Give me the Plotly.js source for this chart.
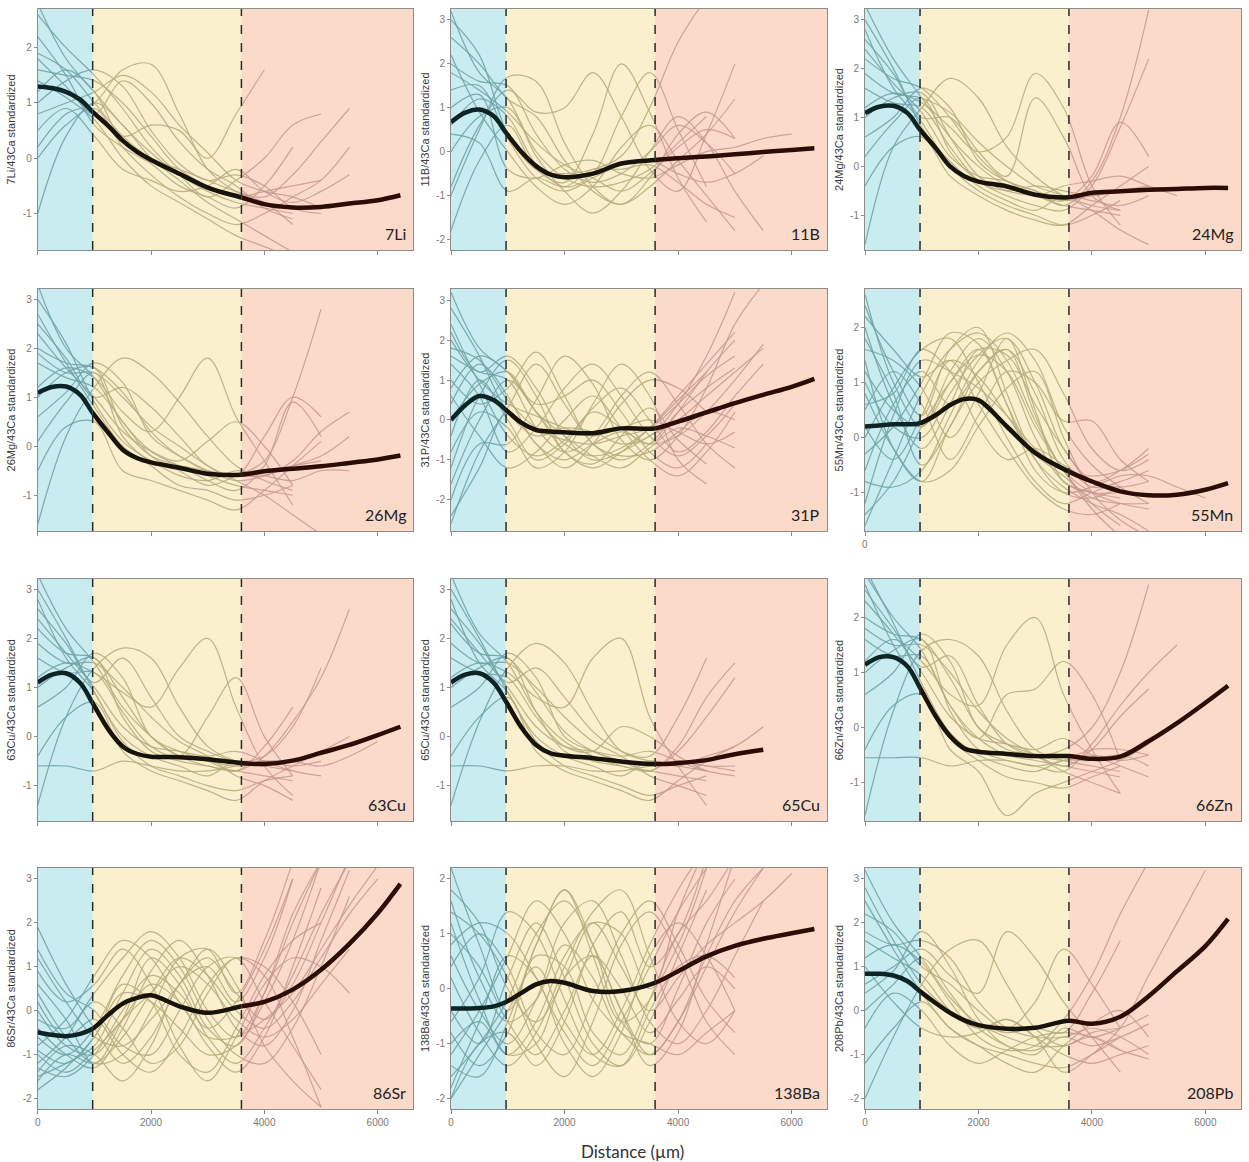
<!DOCTYPE html>
<html>
<head>
<meta charset="utf-8">
<script src="https://cdn.plot.ly/plotly-3.0.1.min.js"></script>
<style>html,body{margin:0;padding:0;background:#fff;}#chart{width:1249px;height:1162px;}</style>
</head>
<body>
<div id="chart"></div>
<script>
// ---------------- DATA ----------------
const ELEMENTS = ['7Li','11B','24Mg','26Mg','31P','55Mn','63Cu','65Cu','66Zn','86Sr','138Ba','208Pb'];
const X_TICKS = [0, 2000, 4000, 6000];
const ZONE_BOUNDS = [0, 970, 3595, 6628];   // distance (µm)
// x positions of the thin individual profiles
const XT = [0,500,1000,1500,2000,2500,3000,3500,4000,4500,5000,5500,6000];
// x positions of the mean (thick) curve
const XM = [0,250,500,750,970,1250,1500,1750,2000,2500,3000,3595,4000,4500,5000,5500,6000,6400];

const mean_7Li  = [1.30,1.27,1.20,1.06,0.84,0.58,0.32,0.12,-0.03,-0.28,-0.53,-0.71,-0.83,-0.89,-0.88,-0.82,-0.76,-0.67];
const mean_11B  = [0.67,0.89,0.96,0.81,0.43,-0.02,-0.33,-0.52,-0.58,-0.50,-0.27,-0.19,-0.15,-0.11,-0.06,-0.01,0.04,0.08];
const mean_24Mg = [1.09,1.22,1.24,1.09,0.75,0.37,0.00,-0.20,-0.31,-0.41,-0.58,-0.63,-0.54,-0.51,-0.48,-0.46,-0.44,-0.44];
const mean_26Mg = [1.09,1.21,1.22,1.05,0.68,0.27,-0.07,-0.24,-0.33,-0.44,-0.56,-0.58,-0.51,-0.46,-0.41,-0.34,-0.27,-0.19];
const mean_31P  = [0.00,0.37,0.60,0.50,0.25,-0.08,-0.25,-0.29,-0.31,-0.33,-0.21,-0.21,-0.04,0.19,0.42,0.63,0.83,1.03];
const mean_55Mn = [0.20,0.22,0.24,0.24,0.26,0.41,0.59,0.70,0.68,0.20,-0.28,-0.62,-0.80,-0.98,-1.05,-1.04,-0.95,-0.83];
const mean_63Cu = [1.10,1.26,1.29,1.09,0.68,0.14,-0.20,-0.35,-0.41,-0.42,-0.46,-0.54,-0.56,-0.49,-0.33,-0.17,0.03,0.20];
const mean_65Cu = [1.10,1.26,1.29,1.10,0.71,0.17,-0.17,-0.34,-0.39,-0.44,-0.51,-0.56,-0.54,-0.48,-0.36,-0.27,null,null];
const mean_66Zn = [1.14,1.28,1.28,1.11,0.72,0.20,-0.16,-0.38,-0.44,-0.48,-0.52,-0.52,-0.57,-0.53,-0.25,0.08,0.45,0.76];
const mean_86Sr = [-0.49,-0.55,-0.58,-0.53,-0.41,-0.09,0.16,0.29,0.35,0.10,-0.05,0.10,0.20,0.48,0.93,1.52,2.22,2.89];
const mean_138Ba= [-0.36,-0.36,-0.35,-0.32,-0.24,-0.07,0.08,0.14,0.11,-0.04,-0.04,0.11,0.32,0.59,0.78,0.91,1.01,1.09];
const mean_208Pb= [0.84,0.84,0.80,0.67,0.44,0.17,-0.05,-0.22,-0.33,-0.41,-0.39,-0.23,-0.30,-0.14,0.33,0.90,1.47,2.09];

const curves_7Li = [
 [2.8,1.8,1.2,0.6,0.1,-0.3,-0.6,-0.8,-0.9,-1.0],
 [1.6,1.5,1.4,1.0,0.4,-0.2,-0.5,-0.7,-0.6,-0.5,-0.4],
 [0.2,0.8,1.0,1.6,1.7,0.8,-0.2,-0.6,-0.8,-1.2],
 [-1.0,0.4,1.0,0.6,0.0,-0.4,-0.8,-1.1,-1.4,-1.7],
 [2.2,1.5,0.6,0.2,-0.1,-0.5,-0.7,-0.9,-0.5,0.2],
 [1.0,1.4,1.6,1.3,0.5,-0.1,-0.4,-0.3,-0.5,-0.9,-1.0],
 [0.5,0.9,0.4,-0.2,-0.4,-0.6,-0.5,-0.2,-0.6,-0.8,-0.6,-0.3],
 [1.8,1.3,0.8,1.4,1.0,0.3,-0.2,-0.5,-0.9,-1.1],
 [1.2,1.6,1.2,0.4,0.6,0.5,0.0,0.8,1.6],
 [0.0,0.6,0.9,0.2,-0.3,-0.7,-1.0,-1.2,-1.0,-0.7,-0.4,0.2],
 [2.6,2.0,1.5,0.9,0.2,-0.3,-0.7,-0.4,0.0,0.6,0.8],
 [1.4,1.1,0.7,0.0,-0.5,-0.8,-1.1,-1.4,-1.6,-1.8],
 [0.8,1.0,1.2,1.5,1.2,0.6,0.1,-0.4,-0.6,-0.7,-0.9],
 [1.9,1.6,1.0,0.4,0.0,-0.2,-0.4,-0.6,-0.7,-0.3,0.3,0.9]
];
const curves_11B = [
 [3.2,1.8,1.2,0.0,-0.6,-0.8,-0.7,-0.4,0.2,0.8],
 [2.0,1.6,1.5,0.4,-0.4,-0.7,-0.5,0.0,0.6,0.2,-0.5],
 [-1.0,0.5,1.7,1.6,0.2,-0.8,-1.2,-0.6,0.4,0.9,0.3],
 [0.6,1.2,0.8,-0.3,-0.8,-0.5,0.8,1.8,0.5,-0.8],
 [1.4,1.5,0.3,-0.6,-0.9,-0.6,-0.3,-0.2,-0.5,-0.7,-0.5,-0.1],
 [-1.8,-0.2,0.6,-0.4,-0.7,0.4,2.0,0.9,-0.6,-1.6],
 [2.6,2.0,1.2,0.8,-0.2,-0.9,-1.2,-0.8,-0.2,0.4,1.2],
 [0.0,0.8,1.0,-0.1,-0.9,-1.4,-0.9,0.0,0.8,0.2,-0.9,-1.8],
 [1.0,1.3,-0.4,-0.6,-0.3,-0.2,-0.5,-0.6,-0.3,0.0,0.1,0.3,0.4],
 [2.2,0.9,0.0,-0.8,-1.2,-0.8,0.1,0.6,-0.2,-1.0,-1.8],
 [-0.8,0.6,1.4,0.9,1.0,1.8,0.8,-0.4,-0.9,0.4,2.0],
 [1.8,1.4,0.9,0.2,-0.3,-0.6,-0.9,-0.5,0.1,0.5,0.3],
 [0.4,0.2,-0.9,-0.6,-0.8,-0.4,-0.4,-0.3,-0.7,-1.2,-1.5],
 [3.0,2.2,0.4,-0.4,-0.5,-0.4,-0.1,1.0,2.5,3.5]
];
const curves_24Mg = [
 [3.3,2.2,1.4,0.6,0.0,-0.4,-0.6,-0.8,-0.9,-1.0],
 [2.2,1.8,1.6,1.0,0.2,-0.3,-0.5,-0.7,-0.6,-0.5,-0.4],
 [-1.6,0.4,1.2,1.8,1.4,0.4,-0.2,-0.6,-0.8,-0.9],
 [1.0,1.4,1.5,0.6,-0.2,-0.5,-0.6,-0.7,-0.2,0.9,0.2],
 [2.8,1.6,0.9,0.0,-0.5,-0.8,-1.0,-1.2,-1.0,-0.7],
 [1.2,1.5,1.3,0.8,0.3,0.6,1.9,1.2,-0.4,-1.2],
 [0.2,0.9,1.4,0.3,-0.3,-0.5,-0.4,-0.5,-0.6,-0.5,-0.5,-0.45],
 [2.6,1.9,1.0,1.0,0.3,-0.2,1.4,0.6,-0.6,-0.9],
 [-0.4,0.4,0.6,-0.2,-0.6,-0.9,-1.1,-1.2,-0.8,-0.4,0.0],
 [1.6,1.3,1.2,0.4,-0.3,-0.6,-0.8,-0.9,-0.4,0.8,2.2],
 [3.0,2.0,0.8,0.1,-0.4,-0.7,-0.9,-0.6,-0.7,-0.8,-0.6],
 [1.9,1.5,1.4,1.1,0.5,0.0,-0.4,-0.6,-0.9,-1.3,-1.6],
 [0.6,1.0,1.6,1.2,0.1,-0.3,-0.5,-0.8,-0.3,1.0,3.2],
 [2.4,1.7,1.1,0.2,-0.2,-0.3,-0.6,-0.4,-0.3,-0.2,-0.4,-0.6]
];
const curves_26Mg = [
 [3.3,2.0,1.4,0.5,-0.1,-0.4,-0.6,-0.8,-0.9,-1.0],
 [2.0,1.7,1.6,1.1,0.3,-0.2,-0.5,-0.6,-0.5,-0.4,-0.3],
 [-1.6,0.2,1.2,1.8,1.5,0.9,0.2,-0.4,-0.7,-0.9],
 [1.0,1.5,1.6,0.4,-0.2,-0.4,-0.7,-0.9,-0.4,0.9,0.2],
 [2.7,1.7,0.8,0.0,-0.4,-0.8,-0.9,-1.1,-1.0,-0.8],
 [1.2,1.6,1.4,0.7,0.3,1.0,1.8,0.6,-0.3,-1.2],
 [0.1,0.9,1.5,0.2,-0.3,-0.4,-0.5,-0.6,-0.6,-0.4,-0.2,0.2],
 [2.5,1.8,1.0,1.2,0.8,0.2,-0.4,-0.6,0.2,1.0,0.6],
 [-0.5,0.4,0.5,-0.5,-0.7,-0.9,-1.1,-1.3,-0.9,-0.4,0.1],
 [1.7,1.4,1.2,0.5,-0.2,-0.5,-0.8,-0.6,-0.3,1.0,2.8],
 [3.0,2.1,0.9,0.1,-0.3,-0.6,-0.7,-0.5,-0.6,-0.7,-0.5,-0.5],
 [1.9,1.5,1.5,1.0,0.4,0.0,-0.4,-0.7,-1.0,-1.4,-1.8],
 [0.6,1.1,1.7,1.3,0.2,-0.2,-0.5,-0.7,-0.6,-0.3,0.3,0.7],
 [2.3,1.6,1.0,0.3,-0.1,-0.3,0.1,0.5,0.0,-0.8]
];
const curves_31P = [
 [3.2,1.8,1.2,0.2,-0.6,-0.9,-0.7,-0.2,0.5,1.2],
 [-2.6,-0.8,0.3,1.4,0.4,-0.6,-1.0,-0.6,0.2,0.8,1.3],
 [1.6,1.2,1.0,-0.2,-0.8,-0.4,0.6,1.2,0.4,-0.6,-1.2],
 [-1.2,0.6,1.5,0.6,-0.8,-1.1,-0.4,0.3,-0.5,-1.1],
 [2.4,0.9,-0.4,-0.9,-0.5,0.3,0.8,0.0,-0.8,-0.3,0.6,1.4],
 [0.4,1.4,0.6,-0.6,-1.0,-0.6,-0.3,-0.6,-0.4,0.2,1.0,1.9],
 [-2.0,-0.6,-0.6,0.5,1.6,0.9,-0.5,-1.0,-0.4,0.8,2.4,3.4],
 [1.0,0.4,0.8,1.7,0.6,-0.6,-0.9,-0.8,-0.3,0.2,0.0],
 [2.8,1.6,0.2,-0.4,-0.2,-0.3,-0.6,-0.4,0.4,1.6,3.2],
 [0.0,0.9,1.2,0.2,-0.4,-0.9,-1.2,-0.7,-0.2,-0.4,-0.7],
 [-0.8,0.2,-0.2,-1.2,-0.8,0.4,1.4,0.6,-1.0,-1.6],
 [1.8,1.5,0.5,-0.2,-0.5,-0.6,-0.4,-0.2,0.4,1.1,1.6],
 [0.6,-0.4,-1.2,-0.8,0.0,0.6,-0.2,-1.0,-1.4,-0.8,0.2],
 [2.0,1.0,0.4,0.1,-0.2,-0.4,-0.2,0.0,-0.3,-0.6,-0.3],
 [-1.6,0.0,1.0,0.2,-0.8,-1.2,-0.8,-0.2,0.6,1.4,2.2],
 [0.8,1.6,1.2,0.4,0.6,1.0,0.2,-0.8,-1.2,-0.6],
 [-2.4,-1.2,0.2,-0.6,-1.2,-0.6,0.4,1.0,0.8,0.2],
 [1.4,0.6,-0.8,-0.2,0.8,1.4,0.6,-0.4,-0.9,-0.4,0.4],
 [2.2,1.2,1.6,0.8,-0.4,-1.0,-0.8,-0.4,0.0,0.6,1.2,1.8],
 [-0.4,1.0,0.0,-1.0,-0.6,0.2,-0.2,-0.6,0.2,1.2,2.0]
];
const curves_55Mn = [
 [2.6,1.0,0.2,1.2,1.8,1.2,0.0,-0.8,-1.0,-1.1],
 [-1.6,-0.4,0.8,1.6,1.9,1.4,0.3,-0.6,-1.2,-1.6],
 [1.8,0.8,-0.5,0.2,1.2,1.6,0.8,-0.4,-0.9,-0.8,-0.6],
 [0.0,0.9,1.6,1.8,1.0,0.0,-0.8,-1.2,-1.0,-0.8],
 [-0.8,-0.9,-0.6,0.4,1.4,1.9,1.4,0.2,-0.5,-0.9,-1.2],
 [1.2,0.5,0.2,1.0,1.6,0.6,-0.4,-0.9,-1.2,-1.4,-1.7],
 [0.5,1.2,0.6,-0.4,0.4,1.2,1.0,0.3,0.3,-0.4,-0.8],
 [2.2,1.6,1.1,1.4,0.6,-0.2,-0.9,-1.3,-1.4,-1.2],
 [-0.3,0.2,1.0,1.9,1.7,0.6,-0.6,-1.0,-0.9,-0.7,-0.7,-0.9,-1.1],
 [0.8,-0.2,-0.8,-0.6,0.2,0.9,1.2,0.0,-1.0,-1.5,-1.8],
 [-1.2,0.4,1.4,1.2,0.9,0.4,-0.2,-0.6,-0.7,-0.6,-0.3],
 [1.6,1.4,0.9,0.0,0.8,1.8,0.5,-0.8,-1.0,-1.0],
 [0.2,-0.4,0.4,1.4,1.1,0.4,-0.3,-0.7,-1.1,-1.2,-1.2],
 [2.0,0.6,-0.2,0.6,1.6,1.5,0.6,-0.2,-0.8,-0.6,-0.2],
 [1.0,0.2,0.0,0.8,1.5,1.8,1.0,-0.2,-0.8,-1.0],
 [-0.6,0.6,1.2,0.6,1.2,1.6,0.4,-0.6,-1.0,-1.2,-1.3],
 [2.4,1.2,0.4,1.6,2.0,0.8,-0.4,-1.0,-1.1,-0.9],
 [-1.4,-0.8,0.2,1.0,1.5,1.2,0.2,-0.6,-1.3,-1.8],
 [0.6,0.8,1.6,1.2,0.2,-0.4,-0.2,-0.5,-0.8,-0.9,-0.8],
 [1.4,-0.2,-0.8,0.2,1.0,1.4,1.6,0.8,-0.2,-0.6,-0.4]
];
const curves_63Cu = [
 [3.3,2.2,1.5,0.6,0.0,-0.4,-0.6,-0.7,-0.8,-0.9],
 [2.2,1.7,1.6,0.8,0.0,-0.4,-0.5,-0.6,-0.5,-0.6,-0.5],
 [-1.4,0.4,1.4,1.8,1.6,0.6,-0.2,-0.5,-0.6,-0.7],
 [1.0,1.4,1.6,0.4,-0.3,-0.5,-0.6,-0.7,-0.4,0.3,1.2,2.6],
 [2.8,1.6,0.9,-0.1,-0.6,-0.8,-1.0,-1.1,-0.9,-0.8],
 [1.2,1.5,1.3,0.9,0.6,1.4,2.0,0.6,-0.6,-1.2],
 [-0.6,-0.6,-0.7,-0.5,-0.6,-0.7,-0.7,-0.6,-0.5,-0.5,-0.6,-0.4,-0.1],
 [2.6,1.9,1.1,1.6,0.8,0.0,-0.3,-0.5,-0.4,0.2,1.4],
 [-0.4,0.4,0.7,-0.3,-0.7,-0.9,-1.1,-1.3,-0.9,-0.6,-0.3],
 [1.6,1.3,1.3,0.5,-0.2,-0.4,0.4,1.2,0.0,-0.8],
 [3.0,2.0,0.9,0.0,-0.4,-0.6,-0.8,-0.5,-0.6,-0.5,-0.3,0.0],
 [1.9,1.5,1.5,1.0,0.4,-0.1,-0.4,-0.8,-1.0,-1.3],
 [0.6,1.0,1.7,1.2,0.0,-0.3,-0.5,-0.7,-0.2,0.6],
 [2.4,1.7,1.0,0.2,-0.2,-0.3,-0.4,-0.3,-0.5,-0.7,-0.8]
];
const curves_65Cu = [
 [3.3,2.1,1.5,0.5,-0.1,-0.4,-0.6,-0.7,-0.8,-0.9],
 [2.3,1.7,1.6,0.9,0.1,-0.3,-0.5,-0.6,-0.5,-0.6,-0.6],
 [-1.4,0.3,1.4,1.9,1.5,0.5,-0.3,-0.5,-0.6,-0.7],
 [1.0,1.4,1.6,0.5,-0.3,-0.5,-0.6,-0.7,-0.3,0.4,1.2],
 [2.8,1.5,0.9,-0.1,-0.6,-0.8,-1.0,-1.2,-1.0,-0.8],
 [1.2,1.5,1.3,0.8,0.6,1.6,2.0,0.4,-0.6,-1.4],
 [-0.6,-0.6,-0.7,-0.6,-0.6,-0.7,-0.7,-0.6,-0.5,-0.6,-0.7],
 [2.6,1.9,1.1,1.4,0.8,0.1,-0.3,-0.4,0.4,1.6],
 [-0.4,0.4,0.8,-0.3,-0.7,-0.9,-1.1,-1.3,-0.9,-0.5,-0.2],
 [1.6,1.3,1.2,0.4,-0.2,-0.3,0.2,0.0,-0.4,-0.7],
 [3.0,2.0,0.9,0.0,-0.4,-0.6,-0.8,-0.5,-0.6,-0.4,-0.2,0.2],
 [1.9,1.5,1.5,1.0,0.4,-0.1,-0.4,-0.8,-1.0,-1.2],
 [0.6,1.0,1.7,1.2,0.0,-0.3,-0.5,-0.7,-0.2,0.8,1.5],
 [2.4,1.7,1.0,0.2,-0.2,-0.3,-0.4,-0.3,-0.5,-0.7,-0.8]
];
const curves_66Zn = [
 [2.8,2.0,1.4,0.4,-0.2,-0.5,-0.6,-0.7,-0.8,-0.9],
 [2.0,1.7,1.6,0.9,0.0,-0.4,-0.5,-0.6,-0.5,-0.6,-0.5],
 [-1.6,0.3,1.4,1.6,1.3,0.3,-0.4,-0.6,-0.7,-0.8],
 [1.0,1.4,1.6,0.3,-0.4,-0.6,-0.7,-0.8,-0.3,0.4,1.0,1.5],
 [2.6,1.5,0.7,-0.2,-0.6,-0.9,-1.0,-1.1,-0.9,-0.7],
 [1.2,1.6,1.2,0.6,0.4,1.5,2.0,0.6,-0.4,-1.2],
 [-0.55,-0.55,-0.55,-0.7,-0.6,-0.6,-0.7,-0.6,-0.4,-0.4,-0.5],
 [2.5,1.8,1.1,1.3,0.4,-0.3,-0.5,-0.4,0.0,1.0,2.6],
 [-0.4,0.4,0.6,-0.4,-0.8,-1.6,-1.2,-1.0,-0.8,-0.6,-0.3],
 [1.6,1.3,1.3,0.4,-0.2,0.6,0.7,1.2,0.6,-0.6],
 [2.9,1.9,0.8,-0.1,-0.5,-0.7,-0.8,-0.6,-0.6,-0.5,-0.7],
 [1.8,1.5,1.5,1.0,0.3,-0.2,-0.5,-0.8,-1.0,-1.2],
 [0.6,1.0,1.7,1.2,0.0,-0.3,-0.5,-0.7,-0.4,0.2,0.7],
 [2.3,1.7,1.0,0.2,-0.2,-0.3,-0.4,-0.2,-0.5,-0.7,-0.9]
];
const curves_86Sr = [
 [-1.5,-1.2,-0.8,0.4,1.4,0.8,-0.4,-0.8,0.4,2.2,3.4],
 [1.9,0.6,-0.4,-1.2,-0.6,0.6,1.2,0.4,-0.2,0.6,2.0,3.5],
 [-0.6,-1.0,-0.4,0.8,1.6,1.0,-0.2,-1.0,-1.2,-0.4,1.0,2.6],
 [0.4,-0.6,-1.2,-1.0,0.0,1.2,1.4,0.4,1.6,3.4],
 [-1.0,-1.4,-0.9,-0.2,0.6,0.2,-0.8,-1.4,-0.6,1.0,2.8],
 [0.9,0.2,0.6,1.4,0.6,-0.8,-1.6,-0.6,0.6,1.2,1.0,0.4],
 [-1.2,-0.6,0.2,-0.4,-1.2,-0.8,0.4,1.2,0.8,-0.6,-2.2],
 [-0.4,-1.0,-1.3,-0.4,0.9,1.6,0.8,-0.4,-0.8,0.0,1.6,3.2],
 [-1.8,-1.3,-0.6,0.4,0.2,-0.4,-1.0,-0.8,0.2,1.6,3.4],
 [0.2,-0.6,-0.2,-1.0,-1.4,-0.6,0.6,1.2,1.0,0.2,-1.0],
 [-0.8,-0.2,0.8,1.6,1.2,0.2,-0.6,-0.6,-0.2,0.4,1.4,2.4,3.3],
 [1.2,0.2,-0.6,-0.8,-0.2,0.6,1.4,0.6,-0.8,-1.6,-2.2],
 [-1.3,-1.5,-1.0,0.0,0.8,0.4,-0.4,0.2,1.4,3.0],
 [0.0,-0.8,-1.0,-0.2,0.4,1.0,0.6,-0.2,-0.6,-0.2,0.6,1.4],
 [-1.4,-0.8,-1.0,-1.6,-0.8,0.6,1.0,0.2,1.2,3.0],
 [0.6,-0.2,-1.2,-0.2,1.2,0.6,-0.6,-1.2,-0.4,0.8,2.2,3.4],
 [-0.9,-1.2,-0.6,0.6,0.2,-1.0,-1.4,-0.4,0.8,1.6,2.0],
 [1.4,0.4,0.0,-0.8,-1.0,0.0,1.0,1.2,0.2,-0.8,-1.8],
 [-0.2,-0.4,0.4,1.2,1.8,1.2,0.0,-0.6,0.4,2.0,3.4],
 [-1.6,-1.0,-1.2,-0.6,0.4,1.2,0.8,0.0,-0.4,0.2,1.2,2.2,3.0]
];
const curves_138Ba = [
 [2.2,0.8,-0.4,0.8,1.8,0.6,-0.6,-0.2,1.4,2.6],
 [-2.0,-1.2,-0.4,0.4,-0.6,-1.2,-0.4,0.8,1.8,2.6],
 [0.6,-0.4,-1.0,-0.2,1.2,1.6,0.6,-0.6,-1.0,-0.4,0.6,1.6],
 [-0.8,-1.4,-0.8,0.6,0.4,-0.8,-1.2,-0.2,1.0,1.6,2.4],
 [1.4,1.0,0.2,-1.0,-1.6,-0.6,0.8,1.4,0.6,-0.6,-1.2],
 [-1.2,-0.4,0.6,1.6,1.0,-0.2,-0.8,-1.2,-0.6,0.4,1.4,2.2],
 [0.2,-0.8,-1.4,-0.8,0.4,1.4,1.8,0.6,-0.6,-1.0,-0.4],
 [-1.6,-1.0,-0.2,1.0,1.6,0.8,-0.4,-1.4,-0.8,0.8,2.4],
 [1.0,0.4,-0.6,-1.2,-0.4,0.6,0.0,-0.8,-0.2,0.4,0.0],
 [-0.4,-1.0,0.2,1.2,0.2,-1.0,-1.4,-0.6,0.6,1.8],
 [0.8,1.2,1.0,0.2,-0.8,-1.4,-0.6,0.4,1.4,2.2],
 [-1.0,-0.6,-1.2,-0.6,0.6,1.2,0.4,-0.4,0.2,0.8,1.2,1.6,2.1],
 [1.6,0.2,-0.6,-0.2,0.8,0.2,-0.8,-1.0,-1.2,-0.8,-0.4],
 [-1.8,-0.6,0.6,0.2,-1.0,-1.6,-0.8,0.6,1.2,0.6,-0.4],
 [1.8,1.2,0.0,-0.6,0.2,1.2,1.0,0.0,0.8,2.2],
 [-1.4,-1.6,-0.6,0.8,1.8,0.8,-0.6,-1.0,0.0,1.2,2.0],
 [0.4,1.0,0.4,-0.8,-1.2,-0.2,1.0,1.6,0.8,-0.2,-0.8],
 [-0.6,0.2,1.4,1.0,-0.2,-1.2,-1.4,-0.4,0.4,0.6,0.2],
 [-2.0,-1.0,-0.8,-1.4,-0.6,0.8,1.4,0.4,1.0,2.4],
 [1.2,-0.2,-1.2,-1.0,0.2,0.6,-0.4,-1.2,-0.6,0.6,1.6,2.2]
];
const curves_208Pb = [
 [3.2,2.0,1.2,0.3,-0.3,-0.6,-0.8,-0.8,-0.6,-0.9],
 [1.8,1.5,1.6,1.2,0.2,-0.4,-0.6,-0.6,-0.4,-0.6,-1.0],
 [-2.0,-0.6,0.6,1.4,1.6,0.6,-0.4,-0.8,-0.5,-0.4],
 [1.2,1.5,1.1,0.2,-0.6,-0.9,-0.8,-0.2,0.8,2.2,3.4],
 [2.5,1.4,0.4,-0.4,-0.8,-1.0,-1.2,-1.3,-1.0,-0.6],
 [0.6,1.0,1.4,0.8,0.4,1.8,1.2,0.2,-0.6,-1.4],
 [-1.2,-0.4,0.2,-0.4,-0.8,-1.2,-1.4,-0.8,-0.3,0.0,-0.6],
 [2.2,1.8,1.0,0.6,0.0,-0.4,0.2,1.4,0.6,-0.4],
 [-0.4,0.4,0.0,-0.8,-1.2,-0.9,-0.6,-0.5,-0.6,-0.9,-1.1],
 [1.6,1.2,0.8,0.0,-0.4,-0.2,-0.6,-1.4,-1.0,-0.4,0.8,2.0,3.2],
 [0.4,0.9,1.8,1.0,-0.2,-0.8,-0.9,-0.6,-0.8,-0.6,-0.3],
 [2.8,1.6,0.6,0.0,-0.3,-0.5,-0.4,-0.5,0.4,1.6],
 [1.0,0.2,-0.4,-0.6,-0.5,-0.2,-0.6,-1.0,-1.2,-1.0,-0.8],
 [0.0,0.6,1.2,0.4,-0.4,-0.8,-1.0,-0.4,-0.6,-0.4,-0.1]
];

const MEANS  = [mean_7Li,mean_11B,mean_24Mg,mean_26Mg,mean_31P,mean_55Mn,mean_63Cu,mean_65Cu,mean_66Zn,mean_86Sr,mean_138Ba,mean_208Pb];
const CURVES = [curves_7Li,curves_11B,curves_24Mg,curves_26Mg,curves_31P,curves_55Mn,curves_63Cu,curves_65Cu,curves_66Zn,curves_86Sr,curves_138Ba,curves_208Pb];
const Y_RANGES = [[-1.66,2.70],[-2.24,3.25],[-1.71,3.22],[-1.73,3.21],[-2.78,3.28],[-1.70,2.70],
                  [-1.72,3.21],[-1.72,3.21],[-1.70,2.70],[-2.24,3.25],[-2.19,2.20],[-2.24,3.25]];

// ---------------- STYLE / LAYOUT ----------------
const W = 1249, H = 1162;
const COLS = [[37.7,413.3],[451,827.3],[865,1241]];
const ROWS = [[9,250],[289,531],[579,821],[868,1109]];
const ZONE_FILL = ['rgb(200,236,240)','rgb(250,240,205)','rgb(252,218,202)'];
const THIN_COL  = ['rgba(112,162,168,0.9)','rgba(184,172,128,0.9)','rgba(196,152,142,0.85)'];
const MEAN_COL  = ['#0d2426','#17130a','#2b0d06'];
const FRAME = '#8c8c8c';
const TICKFONT = {family:'Liberation Sans, Arial, sans-serif', size:10, color:'#7a7a7a'};

const data = [];
const layout = {
  width: W, height: H,
  margin: {l:0, r:0, t:0, b:0},
  paper_bgcolor: '#ffffff',
  plot_bgcolor: 'rgba(0,0,0,0)',
  showlegend: false,
  shapes: [], annotations: []
};
const axName = n => (n === 1 ? '' : String(n));
const XMAX = ZONE_BOUNDS[3];

ELEMENTS.forEach((el, i) => {
  const r = Math.floor(i / 3), c = i % 3;
  const xd = [COLS[c][0] / W, COLS[c][1] / W];
  const yd = [1 - ROWS[r][1] / H, 1 - ROWS[r][0] / H];
  const n = i + 1;
  const yr = Y_RANGES[i];
  const yticks = [];
  for (let v = Math.ceil(yr[0]); v <= Math.floor(yr[1]); v++) yticks.push(v);

  layout['xaxis' + axName(n)] = {
    domain: xd, range: [0, XMAX], anchor: 'y' + axName(n),
    showline: true, mirror: true, linecolor: FRAME, linewidth: 1,
    showgrid: false, zeroline: false,
    ticks: 'outside', ticklen: 4, tickcolor: FRAME, tickwidth: 1,
    tickvals: X_TICKS, ticktext: X_TICKS.map(String),
    showticklabels: r === 3, tickfont: TICKFONT
  };
  layout['yaxis' + axName(n)] = {
    domain: yd, range: yr, anchor: 'x' + axName(n),
    showline: true, mirror: true, linecolor: FRAME, linewidth: 1,
    showgrid: false, zeroline: false,
    ticks: 'outside', ticklen: 3, tickcolor: FRAME, tickwidth: 1,
    tickvals: yticks, ticktext: yticks.map(String), tickfont: TICKFONT,
    title: {text: el + '/43Ca standardized', standoff: 4,
            font: {family:'Liberation Sans, Arial, sans-serif', size: 11, color:'#3a3a3a'}}
  };

  // zone sub-axes: same scale as main axis, clipped to each zone
  for (let k = 0; k < 3; k++) {
    const a = ZONE_BOUNDS[k], b = ZONE_BOUNDS[k + 1];
    const m = 13 + i * 3 + k;
    layout['xaxis' + m] = {
      domain: [xd[0] + (xd[1] - xd[0]) * a / XMAX, xd[0] + (xd[1] - xd[0]) * b / XMAX],
      range: [a, b], anchor: 'y' + axName(n), visible: false, fixedrange: true
    };
    layout.shapes.push({type:'rect', layer:'below', xref:'x' + axName(n), yref:'y' + axName(n) + ' domain',
      x0: a, x1: b, y0: 0, y1: 1, line:{width:0}, fillcolor: ZONE_FILL[k]});
    CURVES[i].forEach(cv => {
      data.push({x: XT.slice(0, cv.length), y: cv, xaxis:'x' + m, yaxis:'y' + axName(n),
        type:'scatter', mode:'lines', hoverinfo:'skip',
        line:{color: THIN_COL[k], width: 1.2, shape:'spline', smoothing: 1}});
    });
    data.push({x: XM, y: MEANS[i], xaxis:'x' + m, yaxis:'y' + axName(n),
      type:'scatter', mode:'lines', hoverinfo:'skip', connectgaps:false,
      line:{color: MEAN_COL[k], width: 4.5, shape:'spline', smoothing: 1}});
  }
  [ZONE_BOUNDS[1], ZONE_BOUNDS[2]].forEach(xb => {
    layout.shapes.push({type:'line', layer:'above', xref:'x' + axName(n), yref:'y' + axName(n) + ' domain',
      x0: xb, x1: xb, y0: 0, y1: 1, line:{color:'#2a2a2a', width:1.5, dash:'dash'}});
  });
  layout.annotations.push({text: el, xref:'x' + axName(n) + ' domain', yref:'y' + axName(n) + ' domain',
    x: 0.985, y: 0.02, xanchor:'right', yanchor:'bottom', showarrow:false,
    font:{family:'Lato, Open Sans, sans-serif', size:16, color:'#222'}});
});

layout.annotations.push({text:'0', xref:'x6', yref:'y6 domain', x:0, y:-0.025, xanchor:'center', yanchor:'top',
  showarrow:false, font: TICKFONT});
layout.annotations.push({text:'Distance (µm)', xref:'paper', yref:'paper', x: 632 / W, y: 1 - 1151 / H,
  xanchor:'center', yanchor:'middle', showarrow:false,
  font:{family:'Lato, Open Sans, sans-serif', size:17, color:'#333'}});

Plotly.newPlot('chart', data, layout, {staticPlot: true, displayModeBar: false});
</script>
</body>
</html>
